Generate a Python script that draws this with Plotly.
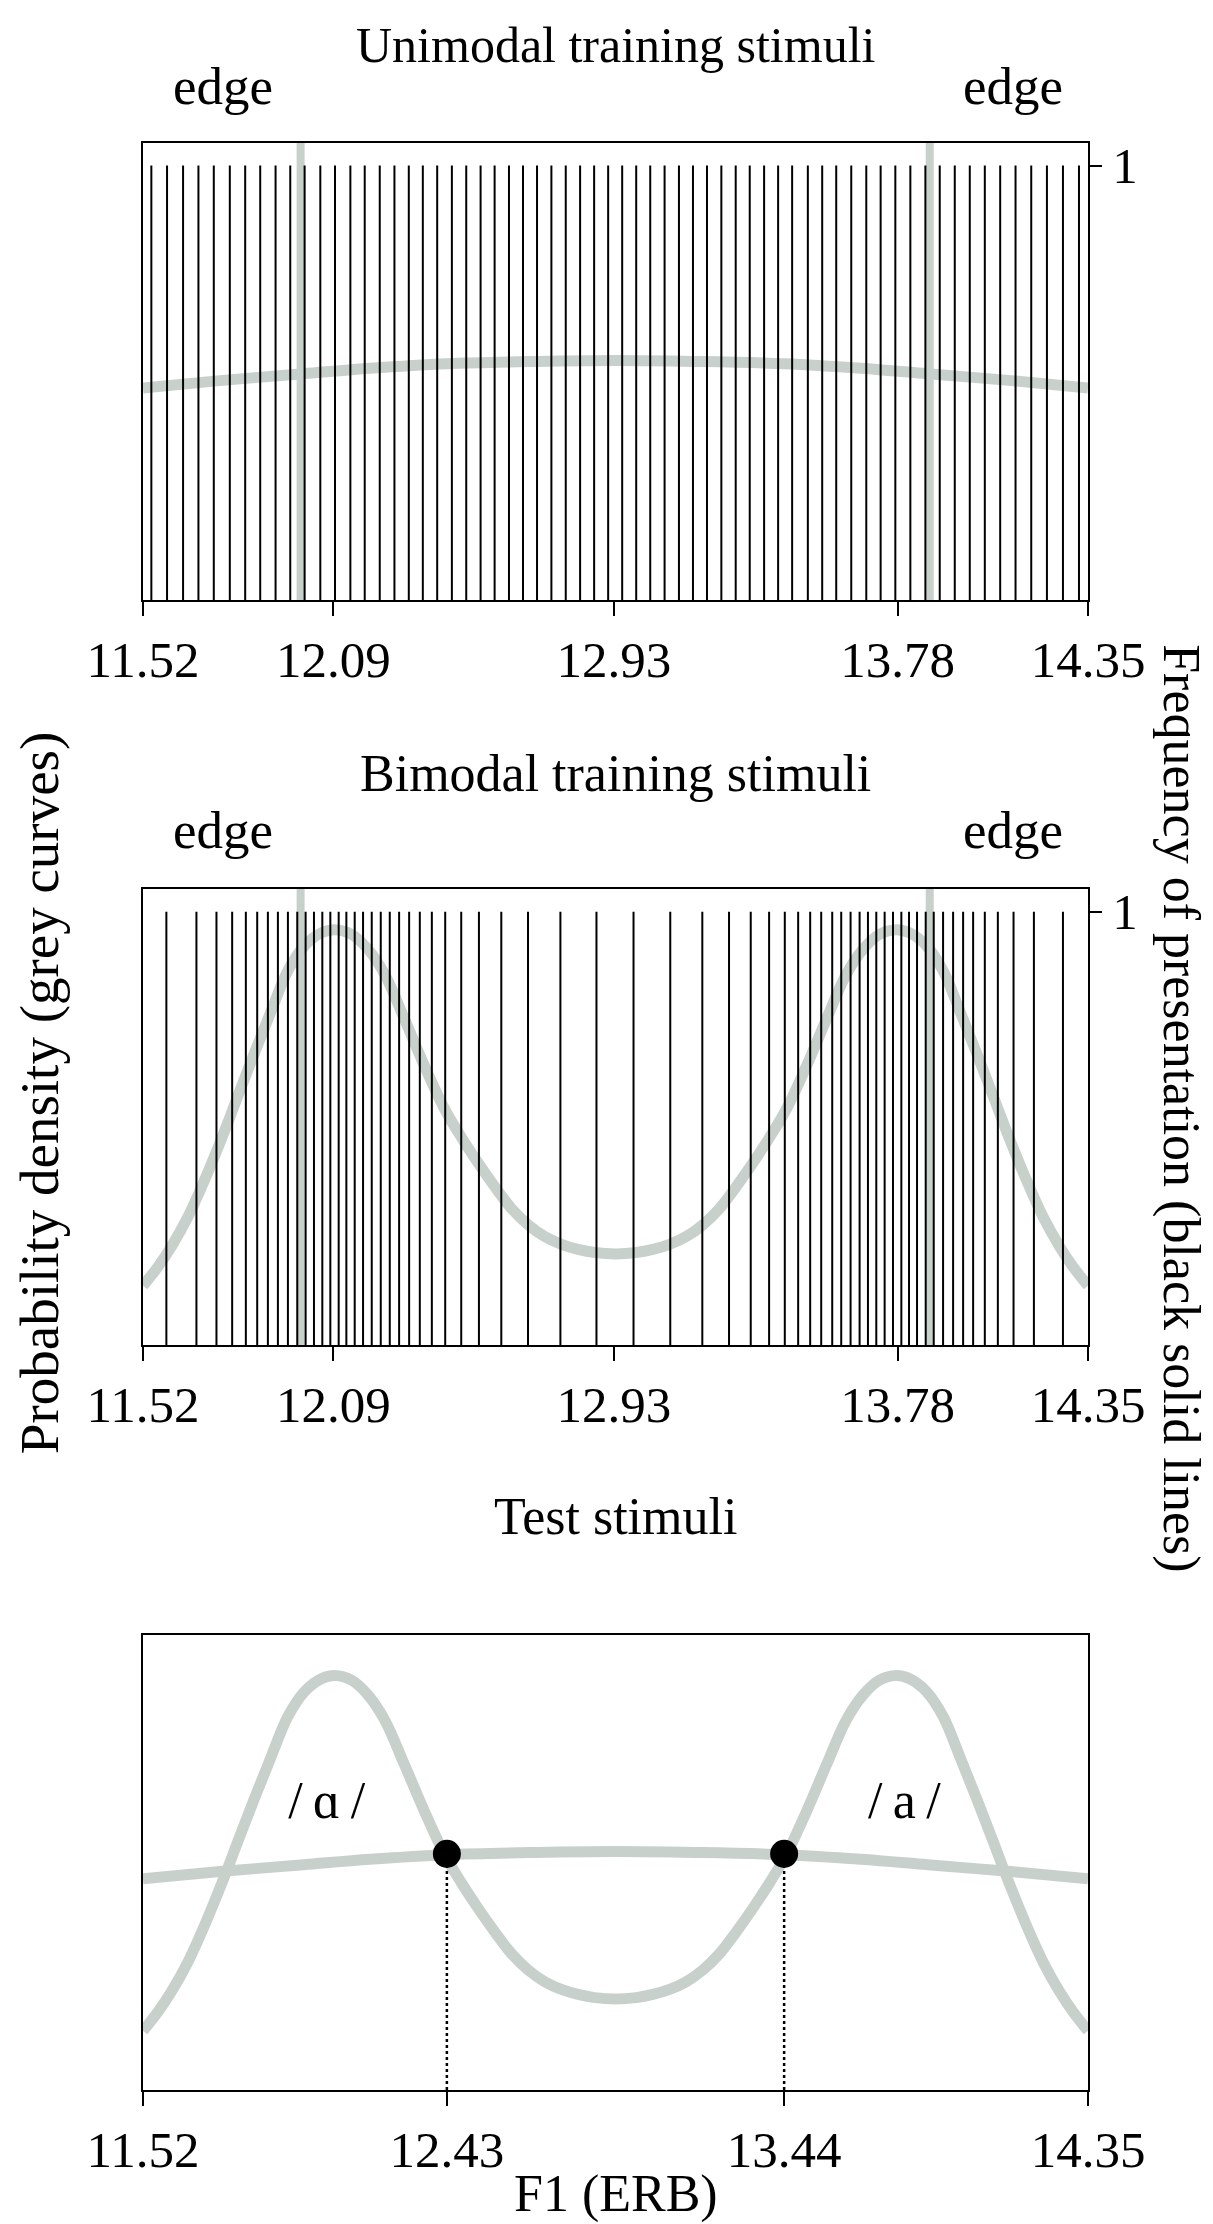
import plotly.graph_objects as go

# stimulus positions (F1 in ERB), one line per token, frequency = 1 each
unimodal_stimuli = [
    11.545, 11.592, 11.640, 11.686, 11.732, 11.780, 11.826, 11.871, 11.917, 11.961,
    12.004, 12.051, 12.095, 12.141, 12.184, 12.229, 12.273, 12.316, 12.358, 12.401,
    12.445, 12.488, 12.531, 12.573, 12.616, 12.658, 12.700, 12.743, 12.786, 12.829,
    12.871, 12.913, 12.955, 12.997, 13.039, 13.082, 13.125, 13.167, 13.209, 13.252,
    13.295, 13.337, 13.380, 13.422, 13.464, 13.511, 13.554, 13.596, 13.641, 13.686,
    13.729, 13.773, 13.818, 13.863, 13.906, 13.951, 13.996, 14.041, 14.087, 14.133,
    14.180, 14.227, 14.275, 14.323,
]
bimodal_stimuli = [
    11.590, 11.680, 11.740, 11.787, 11.828, 11.862, 11.894, 11.924, 11.954, 11.982,
    12.007, 12.032, 12.057, 12.081, 12.106, 12.129, 12.154, 12.179, 12.205, 12.232,
    12.259, 12.287, 12.317, 12.349, 12.385, 12.425, 12.473, 12.526, 12.593, 12.673,
    12.770, 12.878, 12.989, 13.099, 13.195, 13.275, 13.340, 13.395, 13.442, 13.482,
    13.518, 13.551, 13.584, 13.611, 13.639, 13.666, 13.691, 13.716, 13.741, 13.766,
    13.791, 13.814, 13.838, 13.864, 13.888, 13.916, 13.946, 13.976, 14.006, 14.041,
    14.080, 14.127, 14.188, 14.275,
]
frequency = 1

edges = [11.992, 13.876]

# grey density curves (relative height in the panel)
uni_x = [11.52, 11.75, 12.00, 12.20, 12.43, 12.70, 12.935, 13.17, 13.44, 13.67, 13.87, 14.12, 14.35]
uni_y = [0.464, 0.480, 0.495, 0.507, 0.517, 0.522, 0.524, 0.522, 0.517, 0.507, 0.495, 0.480, 0.464]

bi_x = [
    11.520, 11.565, 11.605, 11.655, 11.705, 11.764, 11.804, 11.854, 11.904, 11.954,
    12.004, 12.054, 12.094, 12.144, 12.194, 12.244, 12.303, 12.363, 12.423, 12.473,
    12.523, 12.573, 12.623, 12.673, 12.723, 12.773, 12.823, 12.873, 12.935,
    12.997, 13.047, 13.097, 13.147, 13.197, 13.247, 13.297, 13.347, 13.397, 13.447,
    13.507, 13.567, 13.626, 13.676, 13.726, 13.776, 13.816, 13.866, 13.916, 13.966,
    14.016, 14.066, 14.106, 14.165, 14.215, 14.265, 14.305, 14.350,
]
bi_y = [
    0.130, 0.172, 0.216, 0.282, 0.363, 0.469, 0.546, 0.641, 0.733, 0.821,
    0.876, 0.904, 0.911, 0.901, 0.868, 0.813, 0.715, 0.612, 0.518, 0.456,
    0.400, 0.348, 0.300, 0.264, 0.238, 0.221, 0.210, 0.203, 0.200,
    0.203, 0.210, 0.221, 0.238, 0.264, 0.300, 0.348, 0.400, 0.456, 0.518,
    0.612, 0.715, 0.813, 0.868, 0.901, 0.911, 0.904, 0.876, 0.821, 0.733,
    0.641, 0.546, 0.469, 0.363, 0.282, 0.216, 0.172, 0.130,
]

boundary_x = [12.43, 13.44]
boundary_y = [0.519, 0.519]

vowels = ["/\u2009\u0251\u2009/", "/\u2009a\u2009/"]
vowel_x = [12.07, 13.80]
vowel_y = [0.626, 0.626]

train_ticks = [11.52, 12.09, 12.93, 13.78, 14.35]
test_ticks = [11.52, 12.43, 13.44, 14.35]

GREY = "#c8d0cc"
FONT = "Liberation Serif"


def stick_xy(xs, h):
    px, py = [], []
    for v in xs:
        px += [v, v, None]
        py += [0, h, None]
    return px, py


fig = go.Figure()

panels = [
    ("x", "y", "y2", unimodal_stimuli, [(uni_x, uni_y)]),
    ("x2", "y3", "y4", bimodal_stimuli, [(bi_x, bi_y)]),
]
for xa, dens, freq, stims, curves in panels:
    for e in edges:
        fig.add_trace(go.Scatter(x=[e, e], y=[0, 1], mode="lines", xaxis=xa, yaxis=dens,
                                 line=dict(color=GREY, width=8), hoverinfo="skip"))
    for cx, cy in curves:
        fig.add_trace(go.Scatter(x=cx, y=cy, mode="lines", xaxis=xa, yaxis=dens,
                                 line=dict(color=GREY, width=11, shape="spline"), hoverinfo="skip"))
    sx, sy = stick_xy(stims, frequency)
    fig.add_trace(go.Scatter(x=sx, y=sy, mode="lines", xaxis=xa, yaxis=freq,
                             line=dict(color="black", width=2), hoverinfo="skip"))

# test panel
for cx, cy in [(uni_x, uni_y), (bi_x, bi_y)]:
    fig.add_trace(go.Scatter(x=cx, y=cy, mode="lines", xaxis="x3", yaxis="y5",
                             line=dict(color=GREY, width=11, shape="spline"), hoverinfo="skip"))
for bx, by in zip(boundary_x, boundary_y):
    fig.add_trace(go.Scatter(x=[bx, bx], y=[0, by], mode="lines", xaxis="x3", yaxis="y5",
                             line=dict(color="black", width=2.5, dash="dot"), hoverinfo="skip"))
fig.add_trace(go.Scatter(x=boundary_x, y=boundary_y, mode="markers", xaxis="x3", yaxis="y5",
                         marker=dict(color="black", size=28), hoverinfo="skip"))
fig.add_trace(go.Scatter(x=vowel_x, y=vowel_y, mode="text", text=vowels, xaxis="x3", yaxis="y5",
                         textfont=dict(family=FONT, size=52, color="black"), hoverinfo="skip"))

xbase = dict(range=[11.52, 14.35], showline=True, linecolor="black", linewidth=2, mirror=True,
             ticks="outside", ticklen=14, tickwidth=2, tickcolor="black", showgrid=False,
             zeroline=False, tickfont=dict(family=FONT, size=51, color="black"))
freq_axis = dict(range=[0, 1.052], side="right", showline=True, linecolor="black", linewidth=2,
                 mirror=True, ticks="outside", ticklen=12, tickwidth=2, tickcolor="black",
                 tickvals=[1], ticktext=["1"], showgrid=False, zeroline=False,
                 tickfont=dict(family=FONT, size=51, color="black"))
dens_hidden = dict(range=[0, 1], visible=False, fixedrange=True)

d1 = [0.7653, 1.0]
d2 = [0.3826, 0.6168]
d3 = [0.0, 0.2337]

fig.update_layout(
    width=1213, height=2224,
    margin=dict(l=135, r=133, t=135, b=142),
    paper_bgcolor="white", plot_bgcolor="white",
    showlegend=False,
    font=dict(family=FONT, color="black"),
    xaxis=dict(xbase, anchor="y", tickvals=train_ticks, ticktext=[f"{t:.2f}" for t in train_ticks]),
    yaxis=dict(dens_hidden, domain=d1, anchor="x"),
    yaxis2=dict(freq_axis, overlaying="y", anchor="x"),
    xaxis2=dict(xbase, anchor="y3", tickvals=train_ticks, ticktext=[f"{t:.2f}" for t in train_ticks]),
    yaxis3=dict(dens_hidden, domain=d2, anchor="x2"),
    yaxis4=dict(freq_axis, overlaying="y3", anchor="x2"),
    xaxis3=dict(xbase, anchor="y5", tickvals=test_ticks, ticktext=[f"{t:.2f}" for t in test_ticks]),
    yaxis5=dict(range=[0, 1], domain=d3, anchor="x3", showline=True, linecolor="black",
                linewidth=2, mirror=True, showticklabels=False, ticks="", showgrid=False,
                zeroline=False),
)

texts = [
    ("Unimodal training stimuli", 0.5, 1.0505, 50, 0),
    ("edge", 0.0847, 1.0295, 53, 0),
    ("edge", 0.9206, 1.0295, 53, 0),
    ("Bimodal training stimuli", 0.5, 0.6760, 52, 0),
    ("edge", 0.0847, 0.6470, 53, 0),
    ("edge", 0.9206, 0.6470, 53, 0),
    ("Test stimuli", 0.5, 0.2945, 52, 0),
    ("F1 (ERB)", 0.5, -0.0534, 52, 0),
    ("Probability density (grey curves)", -0.110, 0.512, 55, -90),
    ("Frequency of presentation (black solid lines)", 1.099, 0.504, 52, 90),
]
for t, x, y, s, ang in texts:
    fig.add_annotation(text=t, x=x, y=y, xref="paper", yref="paper", showarrow=False,
                       xanchor="center", yanchor="middle", textangle=ang,
                       font=dict(family=FONT, size=s, color="black"))

fig.write_html("out.html")
